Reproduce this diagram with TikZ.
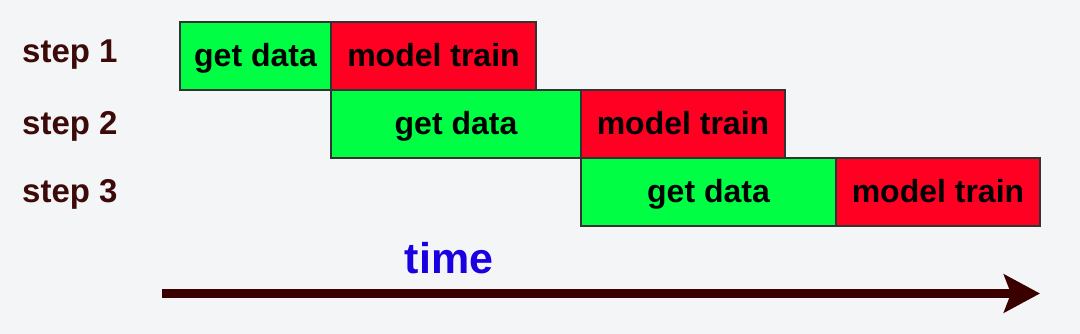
\documentclass[tikz,border=0pt]{standalone}
\usepackage{fontspec}
\setmainfont{Liberation Sans}
\usetikzlibrary{arrows.meta}
\definecolor{bg}{HTML}{F4F5F7}
\definecolor{gdgreen}{HTML}{00FF44}
\definecolor{mtred}{HTML}{FF0022}
\definecolor{lblbrown}{HTML}{3D0A0A}
\definecolor{arrbrown}{HTML}{3A0000}
\definecolor{timeblue}{HTML}{1A00E0}
\definecolor{edge}{HTML}{333333}
\tikzset{
  phase/.style={draw=edge, line width=1.2pt, minimum height=68pt, inner sep=0pt,
    text height=25pt, text depth=3pt,
    font=\fontsize{32}{38}\selectfont\bfseries, text=black},
  getbox/.style={phase, fill=gdgreen},
  trainbox/.style={phase, fill=mtred},
  steplabel/.style={anchor=base west, inner sep=0pt, text=lblbrown,
    font=\fontsize{33}{40}\selectfont\bfseries},
}
\begin{document}
\begin{tikzpicture}[x=1pt,y=-1pt]
\fill[bg] (0,0) rectangle (1080,334);
\useasboundingbox (0,0) rectangle (1080,334);
% row 1
\node[getbox, minimum width=151pt] (gd1) at (255.5,56) {get data};
\node[trainbox, minimum width=205pt] (mt1) at (433.5,56) {model train};
% row 2
\node[getbox, minimum width=250pt] (gd2) at (456,124) {get data};
\node[trainbox, minimum width=204pt] (mt2) at (683,124) {model train};
% row 3
\node[getbox, minimum width=255pt] (gd3) at (708.5,192) {get data};
\node[trainbox, minimum width=204pt] (mt3) at (938,192) {model train};
% labels
\node[steplabel] (s1) at (22,63) {step 1};
\node[steplabel] (s2) at (22,135) {step 2};
\node[steplabel] (s3) at (22,203) {step 3};
% time arrow
\node[anchor=base, inner sep=0pt, text=timeblue, font=\fontsize{43}{50}\selectfont\bfseries] (time) at (449,273) {time};
\coordinate (a0) at (162,293.5);
\coordinate (a1) at (1040,293.5);
\draw[arrbrown, line width=9pt, -{Stealth[length=36pt, width=38pt, inset=7pt]}] (a0) -- (a1);
\end{tikzpicture}
\end{document}
